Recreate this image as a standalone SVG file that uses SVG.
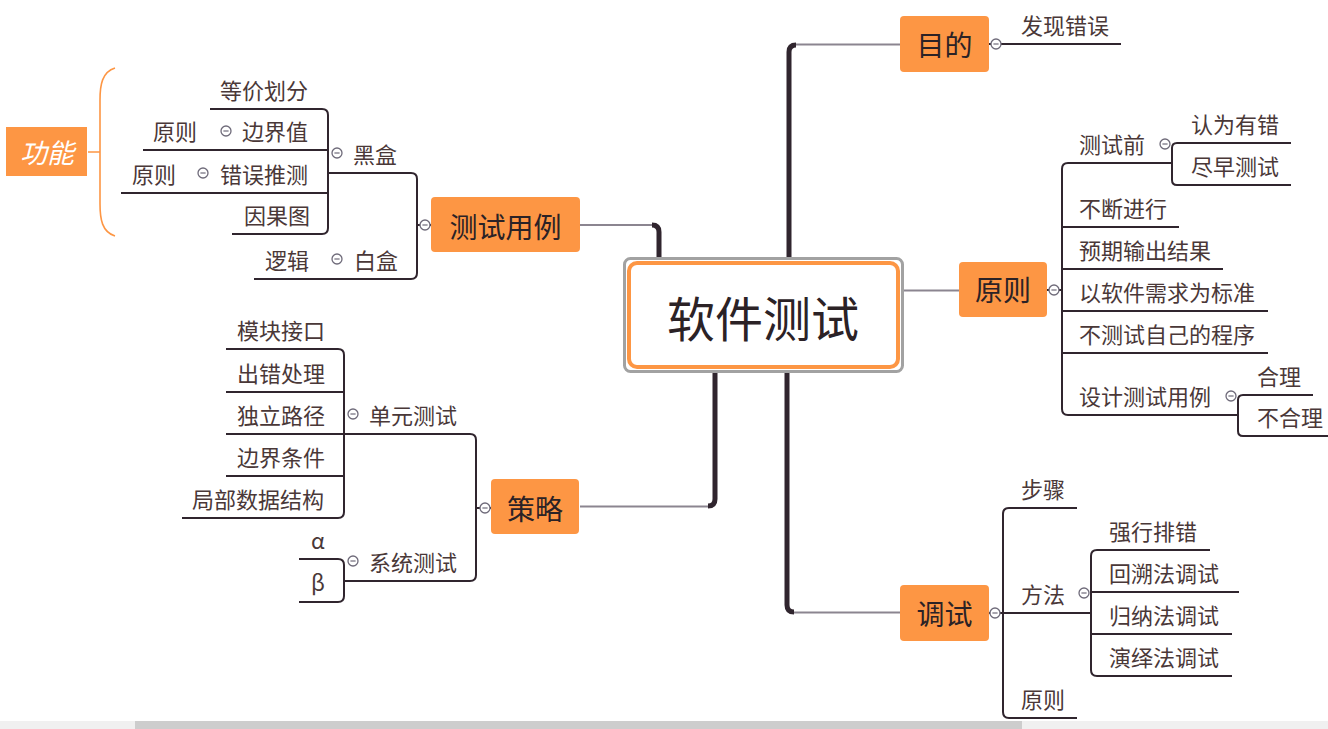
<svg xmlns="http://www.w3.org/2000/svg" width="1328" height="729" viewBox="0 0 1328 729">
<defs>
<style>
.nd{fill:#fd9644}
.nt{font-family:"Noto Sans CJK SC","Noto Sans",sans-serif;font-size:28px;fill:#2b2226;text-anchor:middle}
.st{font-family:"Noto Sans CJK SC","Noto Sans",sans-serif;font-size:22px;fill:#4a3838}
.ln{fill:none;stroke:#30252e;stroke-width:2;stroke-linecap:butt}
.tk{fill:none;stroke:#30252e;stroke-width:5}
.gy{fill:none;stroke:#8b8590;stroke-width:2}
</style>
<g id="col"><circle cx="0" cy="0" r="5" fill="#fff" stroke="#6f6b7a" stroke-width="1.3"/><line x1="-2.6" y1="0" x2="2.6" y2="0" stroke="#6f6b7a" stroke-width="1.2"/></g>
</defs>
<rect width="1328" height="729" fill="#fff"/>

<g id="connectors">
<!-- main connectors -->
<path class="tk" d="M789,258 V52 Q789,45 796,45"/>
<path class="gy" d="M796,44.5 H900"/>
<path class="tk" d="M659,258 V232 Q659,225 652,225"/>
<path class="gy" d="M652,225 H580"/>
<path class="tk" d="M715,372 V499 Q715,506 708,506"/>
<path class="gy" d="M708,506.5 H580"/>
<path class="tk" d="M787,372 V605 Q787,612 794,612"/>
<path class="gy" d="M794,612.5 H900"/>
<path class="gy" d="M903,290.5 H959"/>
<!-- 目的 -->
<path class="ln" d="M989,44 H1121"/>
<!-- 原则 branch -->
<path class="ln" d="M1047,290 H1062"/>
<path class="ln" d="M1172,163 H1068 Q1062,163 1062,169 V409 Q1062,415 1068,415 H1238"/>
<path class="ln" d="M1062,227 H1179 M1062,269 H1223 M1062,311 H1268 M1062,353 H1268"/>
<path class="ln" d="M1291,143 H1177 Q1172,143 1172,148 V180 Q1172,185 1177,185 H1291"/>
<path class="ln" d="M1313,395 H1243 Q1238,395 1238,400 V431 Q1238,436 1243,436 H1328"/>
<!-- 调试 branch -->
<path class="ln" d="M989,613 H1091"/>
<path class="ln" d="M1077,508 H1009 Q1003,508 1003,514 V712 Q1003,718 1009,718 H1077"/>
<path class="ln" d="M1210,550 H1097 Q1091,550 1091,556 V670 Q1091,676 1097,676 H1232"/>
<path class="ln" d="M1091,592 H1239 M1091,634 H1232"/>
<!-- 测试用例 branch -->
<path class="ln" d="M431,225 H417"/>
<path class="ln" d="M328,173 H411 Q417,173 417,179 V273 Q417,279 411,279 H254"/>
<path class="ln" d="M210,109 H322 Q328,109 328,115 V228 Q328,234 322,234 H232"/>
<path class="ln" d="M328,150 H143 M328,193 H121"/>
<!-- 策略 branch -->
<path class="ln" d="M491,508 H476"/>
<path class="ln" d="M344,434 H470 Q476,434 476,440 V575 Q476,581 470,581 H344"/>
<path class="ln" d="M226,349 H338 Q344,349 344,355 V512 Q344,518 338,518 H182"/>
<path class="ln" d="M344,392 H226 M344,434 H226 M344,476 H226"/>
<path class="ln" d="M299,559 H338 Q344,559 344,565 V596 Q344,602 338,602 H299"/>
<!-- 功能 bracket -->
<path d="M115,68 C102,72 100,85 100,100 V204 C100,219 102,232 115,236 M88,152 H100" fill="none" stroke="#fd9644" stroke-width="1.6"/>
<!-- collapse markers -->
<use href="#col" x="996" y="44"/>
<use href="#col" x="1054" y="290"/>
<use href="#col" x="1165" y="144"/>
<use href="#col" x="1231" y="396"/>
<use href="#col" x="995" y="613"/>
<use href="#col" x="1084" y="593"/>
<use href="#col" x="425" y="225"/>
<use href="#col" x="337" y="153"/>
<use href="#col" x="226" y="131"/>
<use href="#col" x="203" y="173"/>
<use href="#col" x="337" y="259"/>
<use href="#col" x="485" y="508"/>
<use href="#col" x="353" y="414"/>
<use href="#col" x="353" y="561"/>
</g>

<g id="center">
<rect x="624.5" y="258.5" width="278" height="113" rx="6" fill="none" stroke="#a2a2a2" stroke-width="3"/>
<rect x="629" y="263" width="269" height="104" rx="8" fill="#fff" stroke="#fd9644" stroke-width="4"/>
<text x="763" y="337" font-family="Noto Sans CJK SC, sans-serif" font-size="48" fill="#2b2226" text-anchor="middle">软件测试</text>
</g>

<g id="node-mudi"><rect class="nd" x="900" y="16" width="89" height="56" rx="4"/><text class="nt" x="944.5" y="56">目的</text></g>
<g id="node-yuanze"><rect class="nd" x="959" y="262" width="88" height="55" rx="4"/><text class="nt" x="1003" y="301">原则</text></g>
<g id="node-ceshiyongli"><rect class="nd" x="431" y="197" width="149" height="55" rx="4"/><text class="nt" x="505.5" y="238">测试用例</text></g>
<g id="node-celue"><rect class="nd" x="491" y="479" width="88" height="55" rx="4"/><text class="nt" x="535" y="520">策略</text></g>
<g id="node-tiaoshi"><rect class="nd" x="900" y="585" width="89" height="56" rx="4"/><text class="nt" x="944.5" y="625">调试</text></g>
<g id="node-gongneng"><rect class="nd" x="6" y="127" width="81" height="49"/><text x="47" y="163" font-family="Noto Sans CJK SC, sans-serif" font-size="27" font-style="italic" fill="#fff" text-anchor="middle">功能</text></g>

<g id="sub-mudi"><text class="st" x="1021" y="34">发现错误</text></g>
<g id="sub-yuanze">
<text class="st" x="1079" y="153">测试前</text>
<text class="st" x="1191" y="133">认为有错</text>
<text class="st" x="1191" y="175">尽早测试</text>
<text class="st" x="1079" y="217">不断进行</text>
<text class="st" x="1079" y="259">预期输出结果</text>
<text class="st" x="1079" y="301">以软件需求为标准</text>
<text class="st" x="1079" y="343">不测试自己的程序</text>
<text class="st" x="1079" y="405">设计测试用例</text>
<text class="st" x="1257" y="385">合理</text>
<text class="st" x="1257" y="426">不合理</text>
</g>
<g id="sub-tiaoshi">
<text class="st" x="1021" y="498">步骤</text>
<text class="st" x="1021" y="603">方法</text>
<text class="st" x="1109" y="540">强行排错</text>
<text class="st" x="1109" y="582">回溯法调试</text>
<text class="st" x="1109" y="624">归纳法调试</text>
<text class="st" x="1109" y="666">演绎法调试</text>
<text class="st" x="1021" y="708">原则</text>
</g>
<g id="sub-ceshiyongli">
<text class="st" x="353" y="163">黑盒</text>
<text class="st" x="220" y="99">等价划分</text>
<text class="st" x="242" y="140">边界值</text>
<text class="st" x="153" y="140">原则</text>
<text class="st" x="220" y="183">错误推测</text>
<text class="st" x="132" y="183">原则</text>
<text class="st" x="244" y="224">因果图</text>
<text class="st" x="354" y="269">白盒</text>
<text class="st" x="265" y="269">逻辑</text>
</g>
<g id="sub-celue">
<text class="st" x="369" y="424">单元测试</text>
<text class="st" x="237" y="339">模块接口</text>
<text class="st" x="237" y="382">出错处理</text>
<text class="st" x="237" y="424">独立路径</text>
<text class="st" x="237" y="466">边界条件</text>
<text class="st" x="192" y="508">局部数据结构</text>
<text class="st" x="369" y="571">系统测试</text>
<text class="st" x="318" y="549" text-anchor="middle">α</text>
<text class="st" x="318" y="591" text-anchor="middle">β</text>
</g>

<g id="scrollbar">
<rect x="0" y="721" width="1328" height="8" fill="#f0f0f0"/>
<rect x="135" y="721" width="887" height="8" fill="#cdcdcd"/>
</g>
</svg>
